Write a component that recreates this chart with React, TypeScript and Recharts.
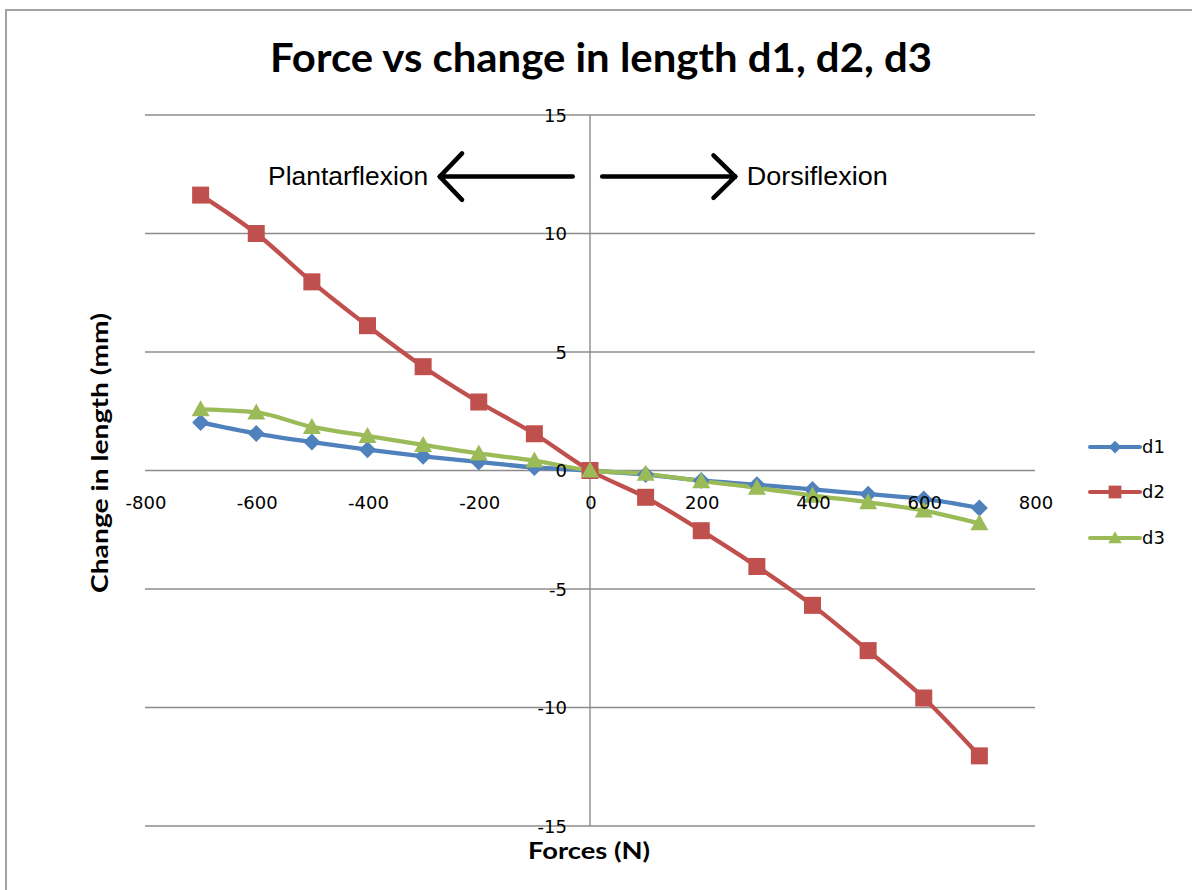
import React from 'react';
import {
  LineChart,
  Line,
  XAxis,
  YAxis,
  CartesianGrid,
  ReferenceLine,
  ReferenceDot,
  Legend,
} from 'recharts';

// ---- data ----
const forces = [-700, -600, -500, -400, -300, -200, -100, 0, 100, 200, 300, 400, 500, 600, 700];
const d1 = [2.03, 1.56, 1.2, 0.88, 0.6, 0.36, 0.13, 0, -0.17, -0.42, -0.6, -0.8, -1.0, -1.2, -1.58];
const d2 = [11.62, 10.0, 7.96, 6.11, 4.38, 2.89, 1.55, 0, -1.13, -2.54, -4.05, -5.69, -7.6, -9.6, -12.04];
const d3 = [2.58, 2.45, 1.84, 1.46, 1.08, 0.72, 0.42, 0, -0.14, -0.45, -0.73, -1.06, -1.34, -1.69, -2.23];
const xTicks = [-800, -600, -400, -200, 0, 200, 400, 600, 800];
const yTicks = [-15, -10, -5, 0, 5, 10, 15];
const seriesNames = ['d1', 'd2', 'd3'];
const titleText = 'Force vs change in length d1, d2, d3';
const xTitle = 'Forces (N)';
const yTitle = 'Change in length (mm)';
const leftNote = 'Plantarflexion';
const rightNote = 'Dorsiflexion';

const data = forces.map((f, i) => ({ force: f, d1: d1[i], d2: d2[i], d3: d3[i] }));

// ---- layout / style ----
const W = 1192;
const H = 890;
const PLOT_LEFT = 145;
const PLOT_TOP = 115;
const PW = 890;
const PH = 711;
const Y_AXIS_W = 60;
const X_AXIS_H = 30;
const M = {
  top: PLOT_TOP,
  left: PLOT_LEFT - Y_AXIS_W,
  right: W - PLOT_LEFT - PW,
  bottom: H - PLOT_TOP - PH - X_AXIS_H,
};

const BLUE = '#4F81BD';
const RED = '#C0504D';
const GREEN = '#9BBB59';
const GRID = '#8c8c8c';
const TICK_FONT = '"DejaVu Sans", Verdana, sans-serif';
const BOLD_FONT = 'Lato, "Open Sans", sans-serif';
const NOTE_FONT = '"Liberation Sans", Arial, sans-serif';

const colors: Record<string, string> = { d1: BLUE, d2: RED, d3: GREEN };
const shapes: Record<string, string> = { d1: 'diamond', d2: 'square', d3: 'triangle' };

function Marker({ shape, cx, cy, color, s = 1 }: any) {
  if (cx == null || cy == null) return null;
  if (shape === 'diamond') {
    const r = 8.5 * s;
    return (
      <polygon
        points={`${cx},${cy - r} ${cx + r},${cy} ${cx},${cy + r} ${cx - r},${cy}`}
        fill={color}
      />
    );
  }
  if (shape === 'square') {
    const r = 8.5 * s;
    return <rect x={cx - r} y={cy - r} width={2 * r} height={2 * r} fill={color} />;
  }
  const r = 9 * s;
  return (
    <polygon
      points={`${cx},${cy - r} ${cx + r},${cy + r * 0.78} ${cx - r},${cy + r * 0.78}`}
      fill={color}
    />
  );
}

const makeDot = (name: string) => (p: any) => (
  <Marker key={`${name}-${p.index}`} shape={shapes[name]} cx={p.cx} cy={p.cy} color={colors[name]} />
);

const XTick = (p: any) => (
  <text
    x={p.x + 1}
    y={p.y - PH / 2 + 32}
    textAnchor="middle"
    dominantBaseline="central"
    fontFamily={TICK_FONT}
    fontSize={18}
    fill="#000"
  >
    {p.payload.value}
  </text>
);

const YTick = (p: any) => (
  <text
    x={p.x + PW / 2 - 23}
    y={p.y}
    textAnchor="end"
    dominantBaseline="central"
    fontFamily={TICK_FONT}
    fontSize={18}
    fill="#000"
  >
    {p.payload.value}
  </text>
);

const XTitle = () => (
  <text
    x={PLOT_LEFT + PW / 2 - 1}
    y={859}
    textAnchor="middle"
    fontFamily={BOLD_FONT}
    fontWeight={700}
    fontSize={22}
    textLength={122}
    lengthAdjust="spacingAndGlyphs"
    fill="#000"
  >
    {xTitle}
  </text>
);

const YTitle = () => {
  const x = 108;
  const y = 453;
  return (
    <text
      x={x}
      y={y}
      transform={`rotate(-90, ${x}, ${y})`}
      textAnchor="middle"
      fontFamily={BOLD_FONT}
      fontWeight={700}
      fontSize={23}
      textLength={280}
      lengthAdjust="spacingAndGlyphs"
      fill="#000"
    >
      {yTitle}
    </text>
  );
};

const NoteLabel = ({ viewBox, text, anchor, len }: any) => (
  <text
    x={viewBox.x}
    y={viewBox.y}
    textAnchor={anchor}
    fontFamily={NOTE_FONT}
    fontSize={26}
    textLength={len}
    lengthAdjust="spacingAndGlyphs"
    fill="#000"
  >
    {text}
  </text>
);

const renderLegend = (props: any) => {
  const { payload } = props;
  return (
    <div style={{ width: 104 }}>
      {(payload || []).map((e: any) => {
        const key = String(e.dataKey ?? e.value);
        return (
          <div key={key} style={{ display: 'flex', alignItems: 'center', height: 45.5 }}>
            <svg width={56} height={20} style={{ display: 'block' }}>
              <line x1={4} y1={10} x2={54} y2={10} stroke={colors[key]} strokeWidth={4} strokeLinecap="round" />
              <Marker shape={shapes[key]} cx={29} cy={10} color={colors[key]} s={0.75} />
            </svg>
            <span style={{ fontFamily: TICK_FONT, fontSize: 18, color: '#000', lineHeight: '20px' }}>
              {e.value}
            </span>
          </div>
        );
      })}
    </div>
  );
};

const ARROW = { stroke: '#000', strokeWidth: 4.5, strokeLinecap: 'round' as const };

export default function App() {
  return (
    <div style={{ position: 'absolute', left: 0, top: 0, width: W, height: H, background: '#fff', overflow: 'hidden' }}>
      <div
        style={{
          position: 'absolute',
          left: 5,
          top: 9,
          width: W,
          height: H,
          borderLeft: '2px solid #a3a3a3',
          borderTop: '2px solid #a3a3a3',
        }}
      />
      <svg width={W} height={100} style={{ position: 'absolute', left: 0, top: 0 }}>
        <text
          x={601}
          y={72}
          textAnchor="middle"
          fontFamily={BOLD_FONT}
          fontWeight={700}
          fontSize={40}
          textLength={662}
          lengthAdjust="spacingAndGlyphs"
          fill="#000"
        >
          {titleText}
        </text>
      </svg>
      <div style={{ position: 'absolute', left: 0, top: 0 }}>
        <LineChart width={W} height={H} data={data} margin={M}>
          <CartesianGrid vertical={false} stroke={GRID} strokeWidth={1.4} />
          <XAxis
            dataKey="force"
            type="number"
            domain={[-800, 800]}
            ticks={xTicks}
            axisLine={false}
            tickLine={false}
            tickSize={0}
            tickMargin={0}
            height={X_AXIS_H}
            tick={<XTick />}
            interval={0}
            label={<XTitle />}
          />
          <YAxis
            type="number"
            domain={[-15, 15]}
            ticks={yTicks}
            axisLine={false}
            tickLine={false}
            tickSize={0}
            tickMargin={0}
            width={Y_AXIS_W}
            tick={<YTick />}
            interval={0}
            label={<YTitle />}
          />
          <ReferenceLine x={0} stroke={GRID} strokeWidth={1.4} />
          {seriesNames.map((n) => (
            <Line
              key={n}
              type="monotone"
              dataKey={n}
              name={n}
              stroke={colors[n]}
              strokeWidth={4.3}
              dot={makeDot(n)}
              activeDot={false}
              isAnimationActive={false}
            />
          ))}
          {/* left arrow */}
          <ReferenceLine segment={[{ x: -31, y: 12.4 }, { x: -270, y: 12.4 }]} {...ARROW} />
          <ReferenceLine segment={[{ x: -270, y: 12.4 }, { x: -230, y: 13.38 }]} {...ARROW} />
          <ReferenceLine segment={[{ x: -270, y: 12.4 }, { x: -230, y: 11.42 }]} {...ARROW} />
          {/* right arrow */}
          <ReferenceLine segment={[{ x: 22, y: 12.4 }, { x: 261, y: 12.4 }]} {...ARROW} />
          <ReferenceLine segment={[{ x: 261, y: 12.4 }, { x: 222, y: 13.3 }]} {...ARROW} />
          <ReferenceLine segment={[{ x: 261, y: 12.4 }, { x: 222, y: 11.5 }]} {...ARROW} />
          <ReferenceDot
            x={-291}
            y={12.05}
            r={0}
            fill="none"
            stroke="none"
            label={<NoteLabel text={leftNote} anchor="end" len={160} />}
          />
          <ReferenceDot
            x={282}
            y={12.05}
            r={0}
            fill="none"
            stroke="none"
            label={<NoteLabel text={rightNote} anchor="start" len={141} />}
          />
          <Legend
            layout="vertical"
            align="center"
            verticalAlign="middle"
            content={renderLegend}
            wrapperStyle={{ left: 1086, top: 424, width: 104, height: 137 }}
          />
        </LineChart>
      </div>
    </div>
  );
}
